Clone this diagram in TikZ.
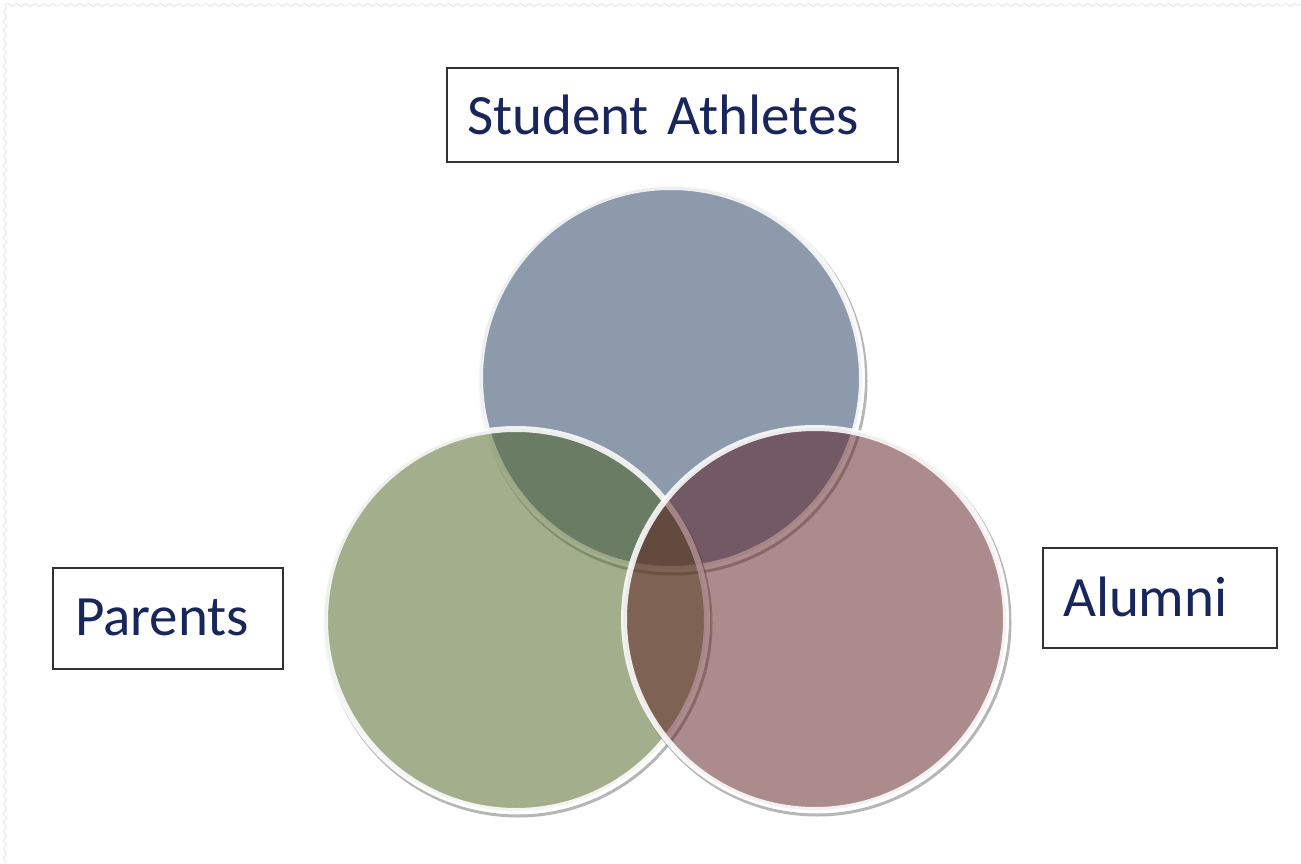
\documentclass[tikz,border=0pt]{standalone}
\usepackage{fontspec}
\setmainfont{Carlito}
\usetikzlibrary{decorations.pathmorphing}
\definecolor{bluebase}{RGB}{27,55,89}
\definecolor{greenbase}{RGB}{73,95,29}
\definecolor{pinkbase}{RGB}{91,25,29}
\definecolor{txtnavy}{RGB}{24,38,92}
\definecolor{boxline}{RGB}{50,50,50}
\definecolor{shadowc}{RGB}{110,110,110}
\tikzset{
  labelbox/.style={draw=boxline, line width=1.8pt, fill=white, inner sep=0pt,
    align=left, text=txtnavy, font=\fontsize{57}{64}\selectfont, anchor=center},
  circshadow/.style={draw=shadowc, opacity=0.5, line width=3pt},
  circring/.style={draw=white, opacity=0.88, line width=6pt},
  faintedge/.style={draw=gray!14, line width=1.2pt, decorate,
    decoration={snake, amplitude=1.5pt, segment length=9pt}}
}
\begin{document}
\begin{tikzpicture}[x=1pt,y=-1pt]
\useasboundingbox (0,0) rectangle (1301,864);
\fill[white] (0,0) rectangle (1301,864);
% faint page edge
\coordinate (tl) at (5,5);
\coordinate (tr) at (1301,5);
\coordinate (bl) at (5,864);
\draw[faintedge] (tl) -- (tr);
\draw[faintedge] (tl) -- (bl);

% centres
\coordinate (cb) at (671,378);
\coordinate (cg) at (516,620);
\coordinate (cp) at (815,619);
\coordinate (sb) at (673,381);
\coordinate (sg) at (518,623);
\coordinate (sp) at (817,622);

% blue (Student Athletes)
\draw[circshadow] (sb) circle (193);
\fill[bluebase, fill opacity=0.5] (cb) circle (191);
\draw[circring] (cb) circle (191);
% green (Parents)
\draw[circshadow] (sg) circle (193);
\fill[greenbase, fill opacity=0.5] (cg) circle (191);
\draw[circring] (cg) circle (191);
% pink (Alumni)
\draw[circshadow] (sp) circle (193);
\fill[pinkbase, fill opacity=0.5] (cp) circle (191);
\draw[circring] (cp) circle (191);

% labels
\node[labelbox, minimum width=451pt, minimum height=94pt, text width=411pt] (sa) at (672.5,115) {Student Athletes};
\node[labelbox, minimum width=230pt, minimum height=101pt, text width=186pt] (pa) at (168,618.5) {\raisebox{2pt}{Parents}};
\node[labelbox, minimum width=234pt, minimum height=100pt, text width=194pt] (al) at (1160,598) {\raisebox{3pt}{Alumni}};
\end{tikzpicture}
\end{document}
